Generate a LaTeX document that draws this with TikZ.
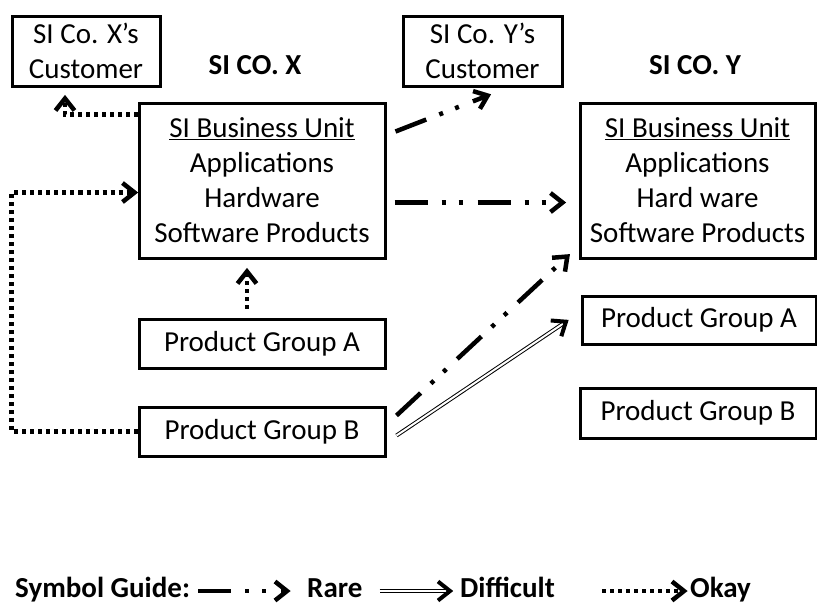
\documentclass[tikz,border=0pt]{standalone}
\usepackage{fontspec}
\setmainfont{Carlito}
\usetikzlibrary{positioning,decorations.markings}

\begin{document}
\begin{tikzpicture}[x=1pt, y=-1pt,
    font=\fontsize{29}{35}\selectfont,
    box/.style={draw, line width=3pt, inner sep=0pt, align=center},
    title/.style={font=\fontsize{29}{35}\selectfont\bfseries},
    guide/.style={title, anchor=base west, inner sep=0pt},
    barbtip/.style={shorten >=5pt, postaction={decorate, decoration={markings,
        mark=at position 1 with {\draw[solid, black, line width=#1, shorten >=0pt, shorten <=0pt]
          (-15pt,9.5pt) -- (-3pt,0pt) -- (-15pt,-9.5pt);}}}},
    okay/.style={draw, barbtip=4.5pt, line width=4.5pt, dash pattern=on 4pt off 4pt},
    rare/.style={draw, barbtip=4.5pt, line width=4.5pt, dash pattern=on 33pt off 14pt on 4pt off 13pt on 4pt off 15pt},
    hard/.style={draw, line width=4pt, postaction={draw=white, line width=2pt, shorten >=5pt}, barbtip=4pt}]
  \useasboundingbox (0,0) rectangle (817,603);
  \node[box, minimum width=148pt, minimum height=70pt] (xcust) at (86,51) {SI Co. X’s\\Customer};
  \node[box, minimum width=159pt, minimum height=70pt] (ycust) at (482.5,51) {SI Co. Y’s\\Customer};
  \node[title] (xco) at (255,65) {SI CO. X};
  \node[title] (yco) at (695,65) {SI CO. Y};
  \node[box, minimum width=246pt, minimum height=155pt] (xbu) at (262,180.5)
       {\underline{SI Business Unit}\\Applications\\Hardware\\Software Products};
  \node[box, minimum width=235pt, minimum height=155pt] (ybu) at (697.5,180.5)
       {\underline{SI Business Unit}\\Applications\\Hard ware\\Software Products};
  \node[box, minimum width=246pt, minimum height=49pt] (xpga) at (262,343.5) {Product Group A};
  \node[box, minimum width=246pt, minimum height=49pt] (xpgb) at (262,431.5) {Product Group B};
  \node[box, minimum width=234pt, minimum height=48pt] (ypga) at (699,320) {Product Group A};
  \node[box, minimum width=236pt, minimum height=50pt] (ypgb) at (698,413) {Product Group B};

  \draw[okay] ([yshift=-13pt]xbu.north west) -| ([shift={(-21pt,-8pt)}]xcust.south);
  \draw[okay] (xpgb.west) -- ++(-126,0) |- ([yshift=-12pt]xbu.west);
  \draw[okay] ([shift={(-15pt,9pt)}]xpga.north) -- ([shift={(-15pt,-9pt)}]xbu.south);
  \draw[rare] ([shift={(9pt,-30pt)}]xbu.north east) -- ([shift={(8pt,-7pt)}]ycust.south);
  \draw[rare] ([xshift=8pt,yshift=-22pt]xbu.east) -- ([xshift=-13pt,yshift=-22pt]ybu.west);
  \draw[rare] ([shift={(10pt,-10pt)}]xpgb.north east) -- ([shift={(-9pt,5pt)}]ybu.south west);
  \draw[hard] ([shift={(10pt,-30pt)}]xpgb.north east) -- ([xshift=-12pt]ypga.west);

  \node[guide] (symbols) at (15,597) {Symbol Guide:};
  \node[guide] (rarelbl) at (307,597) {Rare};
  \node[guide] (hardlbl) at (460,597) {Difficult};
  \node[guide] (okaylbl) at (690,597) {Okay};
  \draw[rare] ([shift={(8pt,6pt)}]symbols.base east) -- ([shift={(-17pt,6pt)}]rarelbl.base west);
  \draw[hard] ([shift={(17pt,6pt)}]rarelbl.base east) -- ([shift={(-7pt,6pt)}]hardlbl.base west);
  \draw[okay] ([shift={(-88pt,6pt)}]okaylbl.base west) -- ([shift={(-3pt,6pt)}]okaylbl.base west);
\end{tikzpicture}
\end{document}
